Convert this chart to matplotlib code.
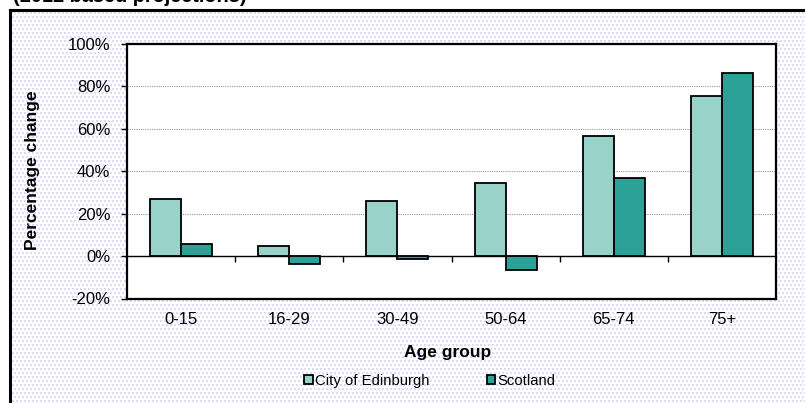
import numpy as np
import matplotlib
matplotlib.use("Agg")
import matplotlib.pyplot as plt
from matplotlib.lines import Line2D

plt.rcParams['font.family'] = ['Liberation Sans', 'DejaVu Sans']

# data (percentage change)
age_groups = ['0-15', '16-29', '30-49', '50-64', '65-74', '75+']
edinburgh = [26.9, 4.9, 26.0, 34.5, 56.4, 75.6]
scotland = [5.5, -3.9, -1.5, -6.6, 36.9, 86.4]
series_names = ['City of Edinburgh', 'Scotland']
yticks = [-20, 0, 20, 40, 60, 80, 100]

col_edi = '#99d2c9'
col_sco = '#2ca197'

W, H = 805, 403
fig = plt.figure(figsize=(W / 100, H / 100), dpi=100)

# dotted lavender background like the spreadsheet fill
bg = np.ones((H, W, 3))
yy, xx = np.mgrid[0:H, 0:W]
dots = ((xx + 2 * ((yy // 4) % 2)) % 4 < 2) & (yy % 4 < 2)
bg[dots] = [0.86, 0.86, 0.98]
bg[:11, :] = 1.0
bg[:, :11] = 1.0
fig.figimage(bg, 0, 0, origin='upper', zorder=-5)

# thick frame on left and top
fig.add_artist(Line2D([9.7 / W, 9.7 / W], [0, 1 - 9.7 / H], color='black', lw=2.2,
                      transform=fig.transFigure, solid_capstyle='projecting'))
fig.add_artist(Line2D([9.7 / W, 1], [1 - 9.7 / H, 1 - 9.7 / H], color='black', lw=2.2,
                      transform=fig.transFigure, solid_capstyle='projecting'))

fig.text(13 / W, 1 - 2.5 / H, '(2012 based projections)', fontsize=14.3,
         fontweight='bold', va='baseline', ha='left')

ax = fig.add_axes([127 / W, 1 - 298.5 / H, 649 / W, 254.5 / H])
ax.set_facecolor('white')

x = np.arange(len(age_groups))
bw = 0.287
ax.bar(x - bw / 2, edinburgh, bw, color=col_edi, edgecolor='black', lw=1.3,
       label=series_names[0], zorder=3)
ax.bar(x + bw / 2, scotland, bw, color=col_sco, edgecolor='black', lw=1.3,
       label=series_names[1], zorder=3)

ax.set_xlim(-0.5, len(age_groups) - 0.5)
ax.set_ylim(-20, 100)
ax.set_yticks(yticks)
ax.set_yticklabels(['%d%%' % v for v in yticks])
ax.set_xticks(x)
ax.set_xticklabels(age_groups)
ax.tick_params(axis='x', length=0, pad=10, labelsize=12)
ax.tick_params(axis='y', direction='out', length=4, width=1, pad=8, labelsize=12)

ax.yaxis.grid(True, linestyle=(0, (1, 1)), color='#999999', lw=0.8)
ax.set_axisbelow(True)
ax.axhline(0, color='black', lw=1, zorder=2)
# category separator ticks on the zero line
ax.vlines(x[:-1] + 0.5, -2.8, 0, color='black', lw=1, zorder=2)

for s in ax.spines.values():
    s.set_linewidth(1.6)

fig.text(33 / W, 1 - 170 / H, 'Percentage change', rotation=90, fontsize=12.5,
         fontweight='bold', ha='center', va='center')
fig.text(448 / W, 1 - 352 / H, 'Age group', fontsize=12.5, fontweight='bold',
         ha='center', va='center')

fig.legend(loc='center', bbox_to_anchor=(430 / W, 1 - 381 / H), ncol=2,
           frameon=False, fontsize=10.7, handlelength=0.55, handleheight=0.55,
           handletextpad=0.15, columnspacing=3.9)

fig.savefig('out.png', dpi=100)
